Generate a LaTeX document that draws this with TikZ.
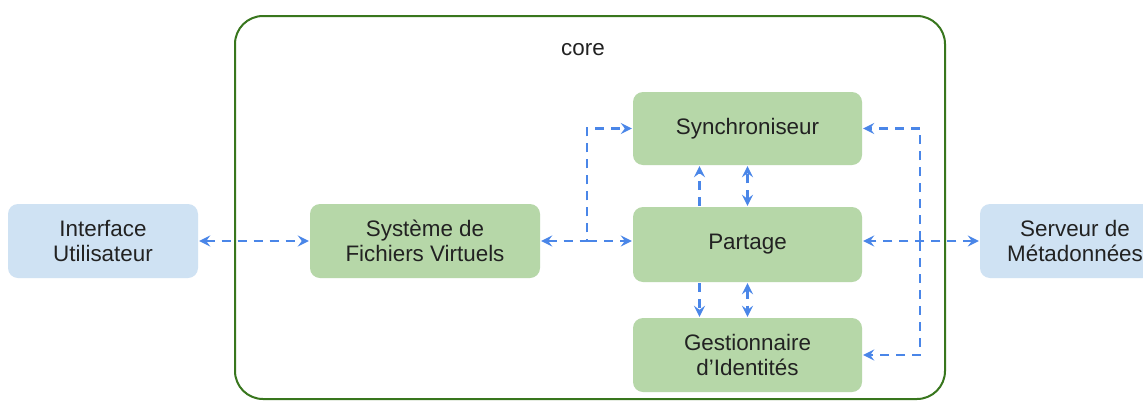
\documentclass[tikz,border=0pt]{standalone}
\usepackage{fontspec}
\setmainfont{Liberation Sans}
\usetikzlibrary{arrows.meta,calc}
\definecolor{gfill}{HTML}{B6D7A8}
\definecolor{bfill}{HTML}{CFE2F3}
\definecolor{coreline}{HTML}{38761D}
\definecolor{arrowc}{HTML}{4A86E8}
\definecolor{txt}{HTML}{222222}
\begin{document}
\begin{tikzpicture}[x=1pt,y=-1pt,
  box/.style={rounded corners=10pt, minimum height=74pt, inner sep=0pt, align=center,
    text=txt, font=\fontsize{22.4}{25}\selectfont},
  gbox/.style={box, fill=gfill},
  bbox/.style={box, fill=bfill},
  tip/.tip={Stealth[length=11pt,width=11pt,inset=4pt]},
  conn/.style={draw=arrowc, line width=2.4pt, dash pattern=on 9pt off 7pt,
    arrows={-tip}, shorten >=1pt, shorten <=1pt},
  conn2/.style={conn, arrows={tip-tip}}
]
\useasboundingbox (0,0) rectangle (1143,402);
\fill[white] (0,0) rectangle (1143,402);
% core container
\draw[coreline, line width=2pt, rounded corners=28pt] (235,16) rectangle (945,399);
\node[text=txt, font=\fontsize{22.4}{25}\selectfont] (core) at (583,50) {core};
% nodes
\node[bbox, minimum width=190pt] (ui) at (103,241) {Interface\\Utilisateur};
\node[gbox, minimum width=230pt] (sfv) at (425,241) {Système de\\Fichiers Virtuels};
\node[gbox, minimum width=229pt, minimum height=73pt] (sync) at (747.5,128.5) {Synchroniseur};
\node[gbox, minimum width=229pt, minimum height=75pt] (part) at (747.5,244.5) {Partage};
\node[gbox, minimum width=229pt] (gest) at (747.5,355) {Gestionnaire\\d’Identités};
\node[bbox, minimum width=190pt] (serv) at (1075,241) {Serveur de\\Métadonnées};
% junctions
\coordinate (jl) at (587,241);
\coordinate (jr) at (920,241);
% connectors
\draw[conn2] (ui.east) -- (sfv.west);
\draw[conn2] (sfv.east) -- (jl) |- (sync.west);
\draw[conn] (jl) -- (part.west |- jl);
\draw[conn2] (serv.west) -- (part.east |- serv.west);
\draw[conn] (jr) |- (sync.east);
\draw[conn] (jr) |- (gest.east);
\draw[conn] ([xshift=-48pt]part.north) -- ([xshift=-48pt]sync.south);
\draw[conn2] (part.north) -- (sync.south);
\draw[conn] ([xshift=-48pt]part.south) -- ([xshift=-48pt]gest.north);
\draw[conn2] (part.south) -- (gest.north);
\end{tikzpicture}
\end{document}
